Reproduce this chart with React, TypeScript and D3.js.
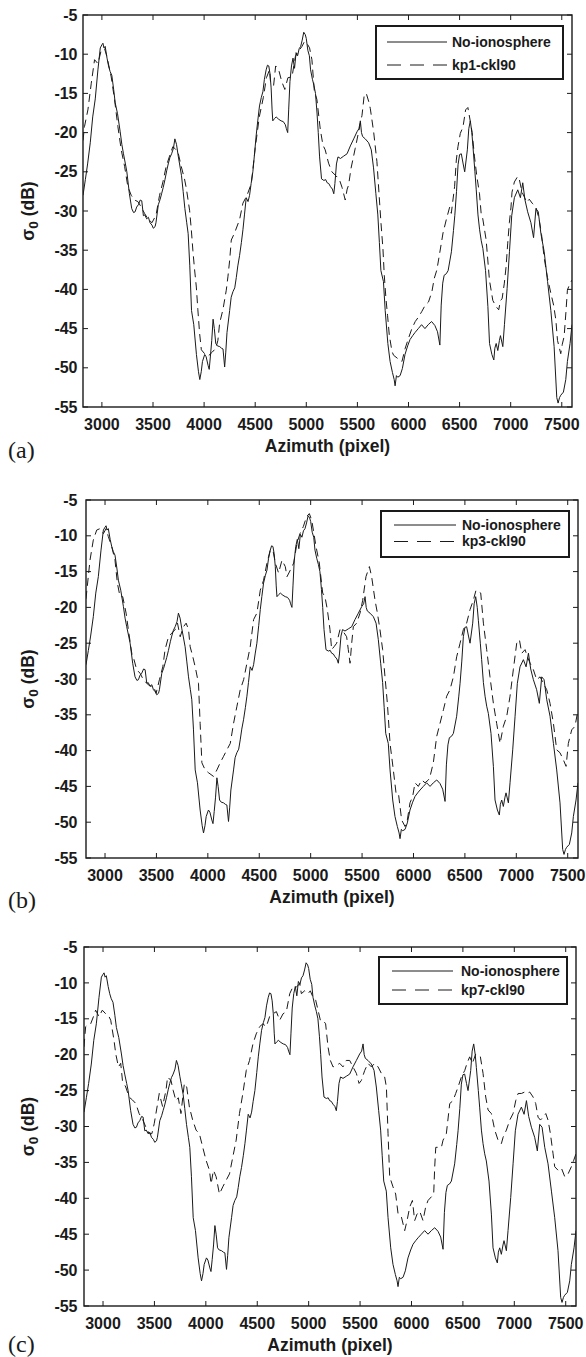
import React from 'react';
import * as d3 from 'd3';

// azimuth range and sigma0 range shared by all three panels
const X_DOMAIN: [number, number] = [2815, 7600];
const Y_DOMAIN: [number, number] = [-55, -5];
const xTickValues = [3000, 3500, 4000, 4500, 5000, 5500, 6000, 6500, 7000, 7500];
const yTickValues = [-55, -50, -45, -40, -35, -30, -25, -20, -15, -10, -5];
const refName = 'No-ionosphere';
const caseNames = ['kp1-ckl90', 'kp3-ckl90', 'kp7-ckl90'];
const panelTags = ['(a)', '(b)', '(c)'];

// [azimuth pixel, sigma0 dB]
const noIonosphere: [number, number][] = [
  [2815, -28], [2838, -26], [2860, -24], [2886, -21.3], [2910, -18], [2935, -15.7], [2961, -12],
  [2984, -9.2], [3000, -8.8], [3010, -8.6], [3020, -9.2], [3032, -9], [3050, -10.5], [3065, -11.5],
  [3080, -12.2], [3097, -12.7], [3115, -14.5], [3130, -16.2], [3153, -17.6], [3179, -19.9],
  [3195, -21.5], [3211, -22.7], [3230, -24], [3244, -25], [3269, -27.8], [3292, -29.7],
  [3310, -30.2], [3325, -30.1], [3340, -29.5], [3357, -29.2], [3375, -28.6], [3390, -28.7],
  [3406, -30.6], [3420, -30.5], [3438, -31], [3455, -30.8], [3471, -31.5], [3490, -31.8],
  [3503, -32.2], [3520, -32], [3529, -31.5], [3552, -29.2], [3570, -28.5], [3584, -27.8],
  [3600, -27], [3617, -26], [3635, -24.8], [3649, -24], [3665, -23.2], [3682, -22.7], [3700, -22],
  [3714, -20.8], [3730, -21.5], [3747, -23], [3760, -24], [3779, -25.5], [3795, -27.5],
  [3812, -29.7], [3830, -31.5], [3844, -32.9], [3860, -37], [3877, -42.7], [3899, -44.5],
  [3925, -48.3], [3945, -50.5], [3958, -51.5], [3972, -50.5], [3984, -49.2], [4006, -48.3],
  [4020, -48.6], [4039, -49.7], [4050, -50.2], [4062, -48.5], [4075, -46.5], [4088, -43.8],
  [4100, -45], [4114, -46.9], [4130, -47.2], [4153, -47.3], [4170, -47.5], [4185, -47.6],
  [4201, -49.9], [4212, -48], [4224, -45.5], [4250, -42.7], [4265, -41], [4282, -40.3],
  [4300, -39.8], [4315, -38.5], [4330, -37], [4347, -35.7], [4365, -34], [4380, -32.4],
  [4395, -30.5], [4412, -28.3], [4430, -28.8], [4445, -28], [4460, -26.5], [4477, -25],
  [4495, -22.5], [4510, -20.3], [4525, -18.5], [4542, -16.6], [4560, -15.5], [4575, -14.8],
  [4590, -13.2], [4607, -12], [4620, -11.4], [4633, -11.5], [4645, -12.5], [4656, -14.3],
  [4665, -17], [4672, -18.5], [4690, -18.2], [4705, -18], [4730, -18.3], [4753, -18.5],
  [4775, -18.6], [4795, -19], [4805, -19.5], [4818, -20], [4828, -17], [4840, -13.5],
  [4855, -11.5], [4870, -10.5], [4885, -11.8], [4900, -9.8], [4915, -10.2], [4930, -9.3],
  [4945, -9], [4960, -8.2], [4975, -7.2], [4990, -7.5], [5000, -8], [5015, -9.5], [5030, -10.2],
  [5042, -12], [5060, -13.2], [5075, -14], [5090, -15], [5105, -17.5], [5117, -20], [5130, -23.1],
  [5149, -25.9], [5172, -26.1], [5190, -26], [5204, -26.4], [5220, -26.5], [5237, -26.9],
  [5255, -27.2], [5269, -27.8], [5280, -26.5], [5295, -24], [5310, -23.1], [5334, -23.3],
  [5366, -23], [5399, -22.7], [5431, -21.7], [5464, -20.8], [5496, -19.9], [5515, -19.5],
  [5529, -18.5], [5540, -20], [5551, -20.5], [5577, -20.8], [5610, -21.3], [5636, -22.2],
  [5658, -24.5], [5681, -27.8], [5700, -30.5], [5715, -34], [5730, -37.6], [5755, -39],
  [5772, -42.7], [5798, -46.9], [5820, -49.2], [5843, -50.6], [5860, -51.5], [5869, -52.3],
  [5882, -51], [5895, -51.2], [5918, -51], [5940, -50.1], [5966, -48.3], [5992, -47.2],
  [6015, -46.4], [6041, -45.9], [6064, -45.5], [6096, -45], [6128, -44.5], [6161, -45],
  [6193, -44.5], [6226, -44.1], [6258, -44.6], [6284, -45.4], [6307, -47.1], [6320, -42],
  [6335, -39.2], [6349, -38.2], [6370, -38], [6388, -37.6], [6420, -35.2], [6440, -32.5],
  [6453, -30.6], [6470, -27.5], [6485, -24.1], [6500, -22.8], [6517, -22.7], [6535, -24],
  [6550, -25], [6576, -22.2], [6590, -19.5], [6605, -18.5], [6620, -20], [6631, -21.8],
  [6650, -25], [6663, -27.3], [6680, -30.5], [6696, -32.4], [6712, -33.8], [6728, -34.8],
  [6754, -37.6], [6777, -42.2], [6793, -46.9], [6816, -48.3], [6835, -49], [6845, -47.5],
  [6858, -46.9], [6874, -47.8], [6890, -46.5], [6900, -45.9], [6923, -47.3], [6939, -44.5],
  [6965, -39.9], [6988, -35.2], [7010, -30.6], [7036, -28.3], [7069, -27.3], [7095, -28.3],
  [7118, -26.4], [7140, -28.6], [7166, -30.1], [7198, -31.5], [7224, -33.4], [7247, -29.7],
  [7270, -30.1], [7296, -32.9], [7328, -35.2], [7361, -39], [7393, -42.7], [7425, -47.3],
  [7451, -53.8], [7464, -54.5], [7478, -53.8], [7490, -53.5], [7516, -53.1], [7539, -51.5],
  [7555, -49.2], [7581, -46.9], [7600, -44.5],
];

const kp1: [number, number][] = [
  [2815, -21], [2830, -19.2], [2863, -17.1], [2896, -13.7], [2928, -10.7], [2961, -11.2],
  [2993, -9.5], [3026, -9.3], [3049, -10.3], [3091, -12.9], [3124, -15.8], [3156, -19.2],
  [3189, -22.2], [3222, -24.3], [3254, -26.9], [3287, -28], [3319, -28.6], [3352, -28.8],
  [3385, -29.5], [3417, -30.3], [3450, -31], [3490, -31.5], [3530, -30.5], [3564, -28],
  [3597, -26.3], [3629, -24.3], [3662, -23], [3694, -21.8], [3720, -22.1], [3743, -22.4],
  [3776, -24.3], [3808, -25.9], [3826, -27.1], [3858, -29.9], [3875, -32.4], [3890, -35],
  [3907, -37.5], [3924, -39.7], [3939, -42.6], [3956, -45.6], [3973, -47.7], [4005, -48.2],
  [4040, -48.5], [4080, -48], [4115, -47.5], [4135, -46.5], [4152, -44.3], [4184, -42.6],
  [4217, -40.1], [4233, -38.4], [4250, -36.3], [4266, -33.7], [4298, -32.8], [4347, -31.1],
  [4380, -29], [4420, -28], [4462, -26.5], [4500, -22], [4540, -18], [4580, -15.5],
  [4610, -13], [4640, -12], [4650, -13.5], [4680, -14], [4700, -11.5], [4730, -12],
  [4760, -13.5], [4790, -14.5], [4820, -13], [4860, -12.9], [4893, -10.3], [4925, -9.6],
  [4958, -9], [4981, -8.4], [5006, -8.6], [5032, -9.2], [5055, -10.7], [5078, -14.6],
  [5104, -15.8], [5137, -19.6], [5163, -21.6], [5185, -22.2], [5218, -23.9], [5250, -25],
  [5290, -25.5], [5324, -26], [5350, -27], [5381, -28.6], [5400, -27.2], [5414, -26.7],
  [5437, -24.6], [5479, -22], [5512, -19.9], [5545, -17.8], [5567, -15.2], [5587, -15],
  [5610, -16], [5626, -16.9], [5659, -19.9], [5691, -23.7], [5730, -31.4], [5750, -34.8],
  [5763, -38.2], [5779, -41.1], [5795, -43.3], [5812, -45.8], [5838, -47.9], [5854, -48.4],
  [5893, -48.8], [5936, -49.2], [5968, -47.5], [6001, -46.2], [6033, -45], [6066, -44.1],
  [6099, -43.5], [6131, -42.8], [6164, -42], [6196, -41.6], [6229, -40.3], [6252, -38.6],
  [6278, -37.5], [6305, -35.4], [6338, -32.8], [6370, -31.1], [6403, -29.5], [6419, -30.3],
  [6451, -26.9], [6468, -23.5], [6484, -21.8], [6507, -20.1], [6533, -19.3], [6559, -17.1],
  [6581, -16.8], [6604, -18.5], [6623, -20], [6646, -23.1], [6669, -25.6], [6695, -27.8],
  [6711, -30.3], [6727, -31], [6760, -33.7], [6792, -38.8], [6825, -41.4], [6857, -42.2],
  [6883, -42.6], [6900, -41.4], [6916, -41.2], [6938, -39.2], [6955, -37.1], [6971, -34.1],
  [6987, -31.5], [7003, -29.5], [7013, -27.6], [7036, -26.3], [7068, -25.6], [7085, -26],
  [7111, -27.6], [7133, -28.2], [7156, -28.9], [7182, -28.5], [7210, -29], [7247, -29.5],
  [7279, -31.1], [7302, -33], [7328, -36], [7360, -38.5], [7393, -40.5], [7420, -42],
  [7442, -43.9], [7458, -46.5], [7490, -48.2], [7505, -47], [7523, -46], [7540, -43],
  [7555, -40.1], [7572, -39.5], [7600, -38.8],
];

const kp3: [number, number][] = [
  [2815, -18.8], [2854, -13.4], [2886, -10.6], [2919, -9.2], [2951, -9], [2984, -9.7],
  [3010, -9], [3032, -10.1], [3065, -11.5], [3097, -13.4], [3120, -16.6], [3146, -18.5],
  [3172, -18.5], [3205, -20.8], [3227, -23.1], [3260, -26.4], [3282, -27.3], [3308, -28.7],
  [3341, -29.2], [3373, -30.1], [3406, -30.6], [3438, -31], [3471, -31], [3497, -32],
  [3529, -30.1], [3562, -28.3], [3584, -25.9], [3617, -24.1], [3649, -23.6], [3682, -23.1],
  [3705, -22.2], [3731, -24.1], [3763, -22.7], [3789, -22.2], [3812, -23.1], [3828, -25.5],
  [3854, -26.9], [3880, -28.5], [3909, -30.6], [3925, -36.2], [3942, -41.7], [3974, -42.7],
  [4007, -43.1], [4055, -43.6], [4088, -42.7], [4120, -41.7], [4153, -40.8], [4185, -39.9],
  [4218, -39], [4250, -36.2], [4283, -33.8], [4315, -31.5], [4348, -30.1], [4380, -27.8],
  [4412, -25.5], [4445, -21.7], [4477, -20.8], [4510, -17.6], [4542, -16.2], [4575, -13.8],
  [4607, -12], [4633, -12], [4656, -13.8], [4688, -15.2], [4721, -13.4], [4753, -14.3],
  [4770, -15.7], [4802, -14.8], [4835, -13.8], [4867, -11], [4896, -9.7], [4929, -8.7],
  [4961, -7.3], [4987, -6.9], [5010, -7.8], [5032, -9.7], [5052, -11.5], [5084, -13.8],
  [5117, -18], [5139, -18.5], [5162, -20.3], [5188, -23.1], [5204, -25.9], [5227, -25.5],
  [5253, -25], [5285, -23.1], [5318, -23.4], [5350, -24.1], [5366, -25.9], [5383, -27.8],
  [5399, -25], [5415, -22.7], [5447, -22.2], [5480, -20.8], [5506, -19], [5538, -15.7],
  [5571, -14.3], [5593, -15.7], [5626, -19], [5649, -20.8], [5674, -23.1], [5700, -25.9],
  [5723, -29.7], [5746, -33.4], [5772, -39], [5804, -42.7], [5830, -45.9], [5853, -45.9],
  [5885, -49.7], [5918, -50.6], [5940, -49.7], [5966, -47.3], [5992, -46.4], [6015, -44.5],
  [6047, -45], [6080, -44.1], [6112, -44.5], [6145, -44.1], [6161, -43.6], [6193, -41.7],
  [6226, -38], [6258, -36.2], [6291, -34.3], [6323, -32.4], [6355, -31.5], [6388, -29.7],
  [6420, -26.9], [6453, -25], [6485, -23.1], [6517, -22.2], [6550, -20.3], [6582, -19],
  [6608, -17.6], [6631, -17.8], [6654, -18], [6680, -22.2], [6712, -25.9], [6744, -29.7],
  [6777, -33.4], [6809, -36.2], [6842, -39], [6874, -36.6], [6907, -35.2], [6939, -32.4],
  [6971, -28.7], [7004, -25], [7030, -24.5], [7053, -26.4], [7085, -25.9], [7108, -26.9],
  [7134, -27.8], [7166, -28.7], [7198, -30.1], [7231, -29.7], [7263, -30.6], [7296, -31.5],
  [7328, -33.4], [7361, -36.2], [7393, -39.9], [7425, -40.3], [7458, -41.3], [7484, -42.2],
  [7506, -39], [7539, -37.1], [7571, -36.6], [7600, -34.3],
];

const kp7: [number, number][] = [
  [2815, -18.9], [2831, -16.1], [2847, -15.9], [2880, -15.7], [2912, -14.5], [2928, -13.8],
  [2961, -14.7], [2993, -13.8], [3026, -14.3], [3052, -14.5], [3075, -15.2], [3107, -18],
  [3124, -19.9], [3150, -21.7], [3172, -21.2], [3189, -23.6], [3221, -24.5], [3254, -25.9],
  [3286, -26.3], [3319, -26.8], [3351, -28.2], [3384, -29], [3417, -30.1], [3449, -31],
  [3475, -31], [3498, -29.6], [3531, -26.8], [3547, -25.4], [3579, -27.2], [3612, -25],
  [3628, -23.1], [3661, -23.6], [3683, -25], [3709, -26.4], [3732, -26], [3758, -28.2],
  [3791, -24], [3814, -24.5], [3840, -27.3], [3872, -29.1], [3905, -30.5], [3937, -31],
  [3970, -32.9], [4002, -34.7], [4035, -36.1], [4051, -38], [4074, -36.1], [4100, -37],
  [4132, -39.4], [4165, -38.4], [4197, -37.5], [4230, -36.6], [4263, -34.2], [4295, -31.9],
  [4327, -28.2], [4360, -25.4], [4393, -22.2], [4425, -20.8], [4458, -18.5], [4490, -17.1],
  [4523, -16.1], [4555, -15.7], [4588, -16.1], [4620, -14.7], [4653, -14.3], [4686, -14],
  [4718, -15.2], [4751, -14.3], [4783, -14], [4816, -11.5], [4848, -10.5], [4880, -10.6],
  [4913, -10.1], [4929, -11.5], [4961, -11.1], [4994, -11.5], [5016, -11.1], [5042, -12],
  [5068, -12.4], [5091, -13.8], [5114, -15.2], [5139, -15.2], [5165, -15.7], [5188, -18.9],
  [5211, -20.8], [5237, -21.7], [5269, -21.5], [5302, -21.2], [5334, -21.7], [5366, -20.8],
  [5399, -20.8], [5431, -21.7], [5464, -22.6], [5490, -24], [5512, -23.6], [5545, -22.2],
  [5577, -21.2], [5610, -21.7], [5642, -21.2], [5675, -21.7], [5707, -22.6], [5739, -23.1],
  [5756, -24.5], [5772, -31], [5788, -37], [5820, -38.4], [5846, -39.4], [5869, -42.1],
  [5902, -42.6], [5934, -44.5], [5957, -43.1], [5983, -41.2], [6009, -40.3], [6031, -43.1],
  [6054, -42.2], [6080, -41.8], [6112, -43.1], [6138, -41.2], [6161, -40.3], [6193, -39.8],
  [6216, -39.4], [6226, -35.6], [6236, -32.9], [6258, -32.9], [6291, -32.9], [6307, -31.9],
  [6339, -31], [6372, -26.8], [6404, -26.4], [6430, -25.4], [6453, -24.5], [6485, -23.1],
  [6518, -22.2], [6540, -21.2], [6566, -20.3], [6592, -21.2], [6625, -19.9], [6647, -20.1],
  [6670, -20.3], [6696, -22.6], [6722, -25.9], [6745, -27.7], [6777, -28.2], [6810, -30.5],
  [6842, -31.9], [6874, -32.4], [6891, -31.5], [6923, -30.5], [6956, -29.1], [6988, -28.2],
  [7014, -26.4], [7037, -25.4], [7069, -25.4], [7101, -25.2], [7124, -25.4], [7150, -25.2],
  [7183, -25.9], [7208, -26.8], [7231, -28.7], [7254, -29.1], [7280, -28.7], [7306, -28.2],
  [7328, -29.1], [7351, -31], [7377, -33.8], [7393, -35.6], [7426, -36.1], [7458, -35.8],
  [7491, -37], [7523, -36.6], [7555, -35.6], [7578, -34.7], [7600, -33.8],
];

const caseSeries = [kp1, kp3, kp7];

// page layout of the three stacked panels
const layout = [
  { left: 83, right: 572, top: 15, bottom: 407, tagY: 458, titleSize: 17.5,
    legend: { x: 376, y: 26, w: 187, h: 53, l1: 387, l2: 447, tx: 452, r1: 42, r2: 65 } },
  { left: 86, right: 578, top: 500, bottom: 858, tagY: 908, titleSize: 17.5,
    legend: { x: 381, y: 511, w: 188, h: 46, l1: 394, l2: 456, tx: 462, r1: 525, r2: 541.5 } },
  { left: 84, right: 576, top: 947, bottom: 1306, tagY: 1352, titleSize: 17.5,
    legend: { x: 379, y: 957, w: 188, h: 47, l1: 392, l2: 453, tx: 461, r1: 971, r2: 990 } },
];

const SANS = '"Liberation Sans", Arial, Helvetica, sans-serif';
const SERIF = '"Liberation Serif", "Times New Roman", serif';
const INK = '#1a1a1a';

function Panel({ idx }: { idx: number }) {
  const p = layout[idx];
  const x = d3.scaleLinear().domain(X_DOMAIN).range([p.left, p.right]);
  const y = d3.scaleLinear().domain(Y_DOMAIN).range([p.bottom, p.top]);
  const line = d3.line<[number, number]>().x(d => x(d[0])).y(d => y(d[1]));
  const clipId = `clip-${idx}`;
  const tick = 5;
  const lg = p.legend;
  const cx = (p.left + p.right) / 2;
  const cy = (p.top + p.bottom) / 2;

  return (
    <g>
      <defs>
        <clipPath id={clipId}>
          <rect x={p.left} y={p.top} width={p.right - p.left} height={p.bottom - p.top} />
        </clipPath>
      </defs>

      <g clipPath={`url(#${clipId})`} fill="none" stroke={INK} strokeWidth={1}>
        <path d={line(noIonosphere) || ''} strokeLinejoin="round" />
        <path d={line(caseSeries[idx]) || ''} strokeDasharray="8 5" strokeLinejoin="round" />
      </g>

      {/* inward ticks on all four sides */}
      <g stroke={INK} strokeWidth={1}>
        {xTickValues.map(v => (
          <g key={`x${v}`}>
            <line x1={x(v)} x2={x(v)} y1={p.bottom} y2={p.bottom - tick} />
            <line x1={x(v)} x2={x(v)} y1={p.top} y2={p.top + tick} />
          </g>
        ))}
        {yTickValues.map(v => (
          <g key={`y${v}`}>
            <line x1={p.left} x2={p.left + tick} y1={y(v)} y2={y(v)} />
            <line x1={p.right} x2={p.right - tick} y1={y(v)} y2={y(v)} />
          </g>
        ))}
      </g>
      <rect x={p.left} y={p.top} width={p.right - p.left} height={p.bottom - p.top}
        fill="none" stroke={INK} strokeWidth={1.4} />

      <g fontFamily={SANS} fontWeight="bold" fontSize={16} fill={INK}>
        {xTickValues.map(v => (
          <text key={`xl${v}`} x={x(v)} y={p.bottom + 22.5} textAnchor="middle">{v}</text>
        ))}
        {yTickValues.map(v => (
          <text key={`yl${v}`} x={77.5} y={y(v)} dy="0.35em" textAnchor="end">{v}</text>
        ))}
      </g>

      <text x={cx} y={p.bottom + 44.5} textAnchor="middle" fontFamily={SANS}
        fontWeight="bold" fontSize={p.titleSize} fill={INK}>Azimuth (pixel)</text>

      <text transform={`translate(34,${cy}) rotate(-90)`} textAnchor="middle"
        fontFamily={SANS} fontWeight="bold" fontSize={17.5} fill={INK}>
        σ<tspan fontSize={13.5} dy={4}>0</tspan><tspan dy={-4}> (dB)</tspan>
      </text>

      <text x={8} y={p.tagY} fontFamily={SERIF} fontSize={24} fill={INK}>{panelTags[idx]}</text>

      {/* legend */}
      <rect x={lg.x} y={lg.y} width={lg.w} height={lg.h} fill="#fff" stroke={INK} strokeWidth={2} />
      <line x1={lg.l1} x2={lg.l2} y1={lg.r1} y2={lg.r1} stroke={INK} strokeWidth={1} />
      <line x1={lg.l1} x2={lg.l2} y1={lg.r2} y2={lg.r2} stroke={INK} strokeWidth={1} strokeDasharray="14 9" />
      <g fontFamily={SANS} fontWeight="bold" fontSize={14} fill={INK}>
        <text x={lg.tx} y={lg.r1} dy="0.35em">{refName}</text>
        <text x={lg.tx} y={lg.r2} dy="0.35em">{caseNames[idx]}</text>
      </g>
    </g>
  );
}

export default function App() {
  return (
    <svg width={586} height={1357} viewBox="0 0 586 1357"
      style={{ position: 'absolute', left: 0, top: 0, background: '#fff' }}>
      <rect width={586} height={1357} fill="#fff" />
      {layout.map((_, i) => <Panel key={i} idx={i} />)}
    </svg>
  );
}
